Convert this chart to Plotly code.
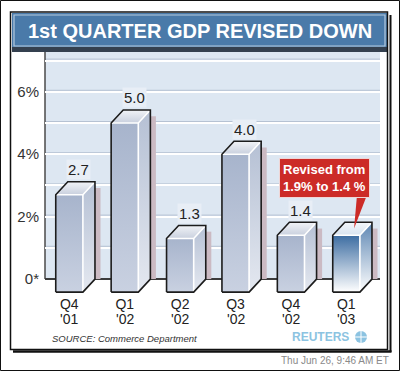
import plotly.graph_objects as go

# ---------------- data ----------------
quarters = ["Q4", "Q1", "Q2", "Q3", "Q4", "Q1"]
years = ["'01", "'02", "'02", "'02", "'02", "'03"]
gdp_growth = [2.7, 5.0, 1.3, 4.0, 1.4, 1.4]
value_labels = ["2.7", "5.0", "1.3", "4.0", "1.4", ""]
highlighted = [False, False, False, False, False, True]
ytick_vals = [0, 2, 4, 6]
ytick_text = ["0*", "2%", "4%", "6%"]
minor_grid = [1, 3, 5, 7]
title_text = "1st QUARTER GDP REVISED DOWN"
callout_text = "Revised from<br>1.9% to 1.4 %"
source_text = "SOURCE: Commerce Department"
stamp_text = "Thu Jun 26, 9:46 AM ET"
brand_text = "REUTERS"

# ---------------- geometry ----------------
W, H = 400, 371
PL, PR, PT, PB = 45, 380, 52, 294
ZERO_PIX = 279
PX_PER_UNIT = 31.2
XR = [-0.439, 5.608]
YR = [-(PB - ZERO_PIX) / PX_PER_UNIT, (ZERO_PIX - PT) / PX_PER_UNIT]
FONT = "Liberation Sans, Arial, sans-serif"


def px(x):
    return (x - PL) / (PR - PL)


def py(y):
    return (PB - y) / (PB - PT)


def dx_(xpix):
    return XR[0] + (xpix - PL) / (PR - PL) * (XR[1] - XR[0])


def dy_(ypix):
    return YR[0] + (PB - ypix) / (PB - PT) * (YR[1] - YR[0])


HALF = 0.245     # half width of the front face (x units)
DEPTH_X = 0.218  # 3-D offset (x units)
DEPTH_Y = 0.417  # 3-D offset (y units)
FLOOR = -0.42    # front bottom edge

fig = go.Figure()

# shadows behind bars
for i, v in enumerate(gdp_growth):
    x1 = i + HALF + DEPTH_X
    fig.add_trace(go.Scatter(
        x=[x1 - 0.03, x1 + 0.1, x1 + 0.1, x1 - 0.03, x1 - 0.03],
        y=[0, 0, v + DEPTH_Y - 0.2, v + DEPTH_Y - 0.2, 0],
        fill="toself", fillcolor="#cbbac3", mode="lines", line=dict(width=0),
        hoverinfo="skip", showlegend=False))

for i, v in enumerate(gdp_growth):
    x0, x1 = i - HALF, i + HALF
    yt, yb = v, FLOOR
    if highlighted[i]:
        front_cs = [[0, "#ffffff"], [1, "#3d6da2"]]
        side_cs = [[0, "#ffffff"], [1, "#5d86b3"]]
        top_cs = [[0, "#d7e3f0"], [1, "#f4f7fb"]]
    else:
        front_cs = [[0, "#c9d1e1"], [1, "#a7b4cc"]]
        side_cs = [[0, "#e4e8f0"], [1, "#b5c0d4"]]
        top_cs = [[0, "#c9d0de"], [1, "#f1f3f7"]]
    fig.add_trace(go.Scatter(
        x=[x0, x0, x1, x1, x0], y=[yb, yt, yt, yb, yb],
        fill="toself", fillgradient=dict(type="vertical", colorscale=front_cs),
        mode="lines", line=dict(width=0), hoverinfo="skip", showlegend=False))
    fig.add_trace(go.Scatter(
        x=[x1, x1, x1 + DEPTH_X, x1 + DEPTH_X, x1],
        y=[yb, yt, yt + DEPTH_Y, yb + DEPTH_Y, yb],
        fill="toself", fillgradient=dict(type="vertical", colorscale=side_cs),
        mode="lines", line=dict(width=0), hoverinfo="skip", showlegend=False))
    fig.add_trace(go.Scatter(
        x=[x0, x0 + DEPTH_X, x1 + DEPTH_X, x1, x0],
        y=[yt, yt + DEPTH_Y, yt + DEPTH_Y, yt, yt],
        fill="toself", fillgradient=dict(type="vertical", colorscale=top_cs),
        mode="lines", line=dict(width=0), hoverinfo="skip", showlegend=False))
    fig.add_trace(go.Scatter(
        x=[x0, x1, x1 + DEPTH_X, None, x1, x1],
        y=[yt, yt, yt + DEPTH_Y, None, yt, yb],
        mode="lines", line=dict(color="#ffffff", width=1.6),
        hoverinfo="skip", showlegend=False))
    fig.add_trace(go.Scatter(
        x=[x0, x0, x0 + DEPTH_X, x1 + DEPTH_X, x1 + DEPTH_X, x1, x0],
        y=[yb, yt, yt + DEPTH_Y, yt + DEPTH_Y, yb + DEPTH_Y, yb, yb],
        mode="lines", line=dict(color="#1c1c1c", width=1.6),
        hoverinfo="skip", showlegend=False))

# callout pointer
ci = len(gdp_growth) - 1
fig.add_trace(go.Scatter(
    x=[dx_(357), dx_(367), ci + 0.14, dx_(357)],
    y=[dy_(195), dy_(195), gdp_growth[ci] + 0.22, dy_(195)],
    fill="toself", fillcolor="#cc2b27", mode="lines", line=dict(width=0),
    hoverinfo="skip", showlegend=False))

shapes = []
shapes.append(dict(type="rect", xref="x domain", yref="y", x0=0, x1=1, y0=0, y1=YR[1],
                   fillcolor="#dde7f2", line=dict(width=0), layer="below"))
for g in minor_grid + ytick_vals[1:]:
    gy = g + 1.5 / PX_PER_UNIT
    shapes.append(dict(type="line", xref="x domain", yref="y", x0=0, x1=1, y0=gy, y1=gy,
                       line=dict(color="#b6c2d3", width=1), layer="below"))
shapes.append(dict(type="line", xref="x domain", yref="y", x0=0, x1=0, y0=0, y1=YR[1],
                   line=dict(color="#4a4a4a", width=1.5), layer="below"))

shapes += [
    dict(type="rect", xref="paper", yref="paper", x0=px(12), x1=px(387), y0=py(13), y1=py(48),
         fillcolor="#4a7aa9", line=dict(width=0), layer="above"),
    dict(type="rect", xref="paper", yref="paper", x0=px(14), x1=px(385), y0=py(15), y1=py(46),
         line=dict(color="#b3c9de", width=1.2), layer="above"),
    dict(type="rect", xref="paper", yref="paper", x0=px(12), x1=px(387), y0=py(47), y1=py(52),
         fillcolor="#34404f", line=dict(width=0), layer="above"),
    dict(type="rect", xref="paper", yref="paper", x0=px(10.5), x1=px(387.5), y0=py(12), y1=py(349.5),
         line=dict(color="#111111", width=1.5), layer="above"),
    dict(type="line", xref="paper", yref="paper", x0=px(390.5), x1=px(390.5), y0=py(15), y1=py(352),
         line=dict(color="#111111", width=2), layer="above"),
    dict(type="line", xref="paper", yref="paper", x0=px(13), x1=px(391.5), y0=py(351.5), y1=py(351.5),
         line=dict(color="#111111", width=2.5), layer="above"),
    dict(type="rect", xref="paper", yref="paper", x0=px(0.5), x1=px(399.5), y0=py(0.5), y1=py(370.5),
         line=dict(color="#111111", width=1), layer="above"),
    dict(type="circle", xref="paper", yref="paper", x0=px(355), x1=px(367), y0=py(331), y1=py(343),
         fillcolor="#8cc3e1", line=dict(width=0), layer="above"),
    dict(type="line", xref="paper", yref="paper", x0=px(361), x1=px(361), y0=py(331), y1=py(343),
         line=dict(color="#ffffff", width=1), layer="above"),
    dict(type="line", xref="paper", yref="paper", x0=px(355), x1=px(367), y0=py(337), y1=py(337),
         line=dict(color="#ffffff", width=1), layer="above"),
]

annotations = []
for i, v in enumerate(gdp_growth):
    if value_labels[i]:
        annotations.append(dict(
            x=i + 0.17, y=v + DEPTH_Y, xref="x", yref="y", yshift=12,
            text=value_labels[i], showarrow=False, yanchor="middle",
            font=dict(family=FONT, size=15, color="#222222"),
            bgcolor="#e8eef6", borderpad=1))
# second line of the category labels (year)
for i, yr in enumerate(years):
    annotations.append(dict(
        x=i, y=py(318.5), xref="x", yref="paper", text=yr, showarrow=False,
        xanchor="center", yanchor="middle",
        font=dict(family=FONT, size=14, color="#222222")))

annotations += [
    dict(x=px(200), y=py(31), xref="paper", yref="paper", text="<b>" + title_text + "</b>",
         showarrow=False, font=dict(family=FONT, size=20, color="#ffffff"),
         xanchor="center", yanchor="middle"),
    dict(x=px(324), y=py(177.5), xref="paper", yref="paper", text="<b>" + callout_text + "</b>",
         showarrow=False, font=dict(family=FONT, size=13, color="#ffffff"),
         bgcolor="#cc2b27", bordercolor="#efd6d6", borderwidth=1, borderpad=3,
         xanchor="center", yanchor="middle"),
    dict(x=px(50), y=py(338), xref="paper", yref="paper", text="<i>" + source_text + "</i>",
         showarrow=False, font=dict(family=FONT, size=9.5, color="#333333"),
         xanchor="left", yanchor="middle"),
    dict(x=px(290), y=py(337), xref="paper", yref="paper", text="<b>" + brand_text + "</b>",
         showarrow=False, font=dict(family=FONT, size=12, color="#8cc3e1"),
         xanchor="left", yanchor="middle"),
    dict(x=px(391), y=py(360), xref="paper", yref="paper", text=stamp_text,
         showarrow=False, font=dict(family=FONT, size=10, color="#8a8a8a"),
         xanchor="right", yanchor="middle"),
]

fig.update_layout(
    width=W, height=H,
    margin=dict(l=PL, r=W - PR, t=PT, b=H - PB, pad=0, autoexpand=False),
    paper_bgcolor="#ffffff", plot_bgcolor="#ffffff",
    showlegend=False,
    shapes=shapes, annotations=annotations,
    xaxis=dict(range=XR, tickvals=list(range(len(quarters))), ticktext=quarters,
               showgrid=False, zeroline=False, showline=False, ticks="",
               tickfont=dict(family=FONT, size=14, color="#222222"),
               ticklabelstandoff=0, automargin=False, fixedrange=True),
    yaxis=dict(range=YR, tickvals=ytick_vals, ticktext=ytick_text,
               showgrid=True, gridcolor="#ffffff", gridwidth=2,
               minor=dict(tickvals=minor_grid, showgrid=True, gridcolor="#ffffff", gridwidth=2),
               zeroline=True, zerolinecolor="#3c3c3c", zerolinewidth=2,
               showline=False, ticks="", ticklabelstandoff=5, automargin=False,
               tickfont=dict(family=FONT, size=15, color="#333333"), fixedrange=True),
)

fig.write_html("out.html", config={"displayModeBar": False},
               post_script="document.body.style.margin='0';document.body.style.padding='0';")
